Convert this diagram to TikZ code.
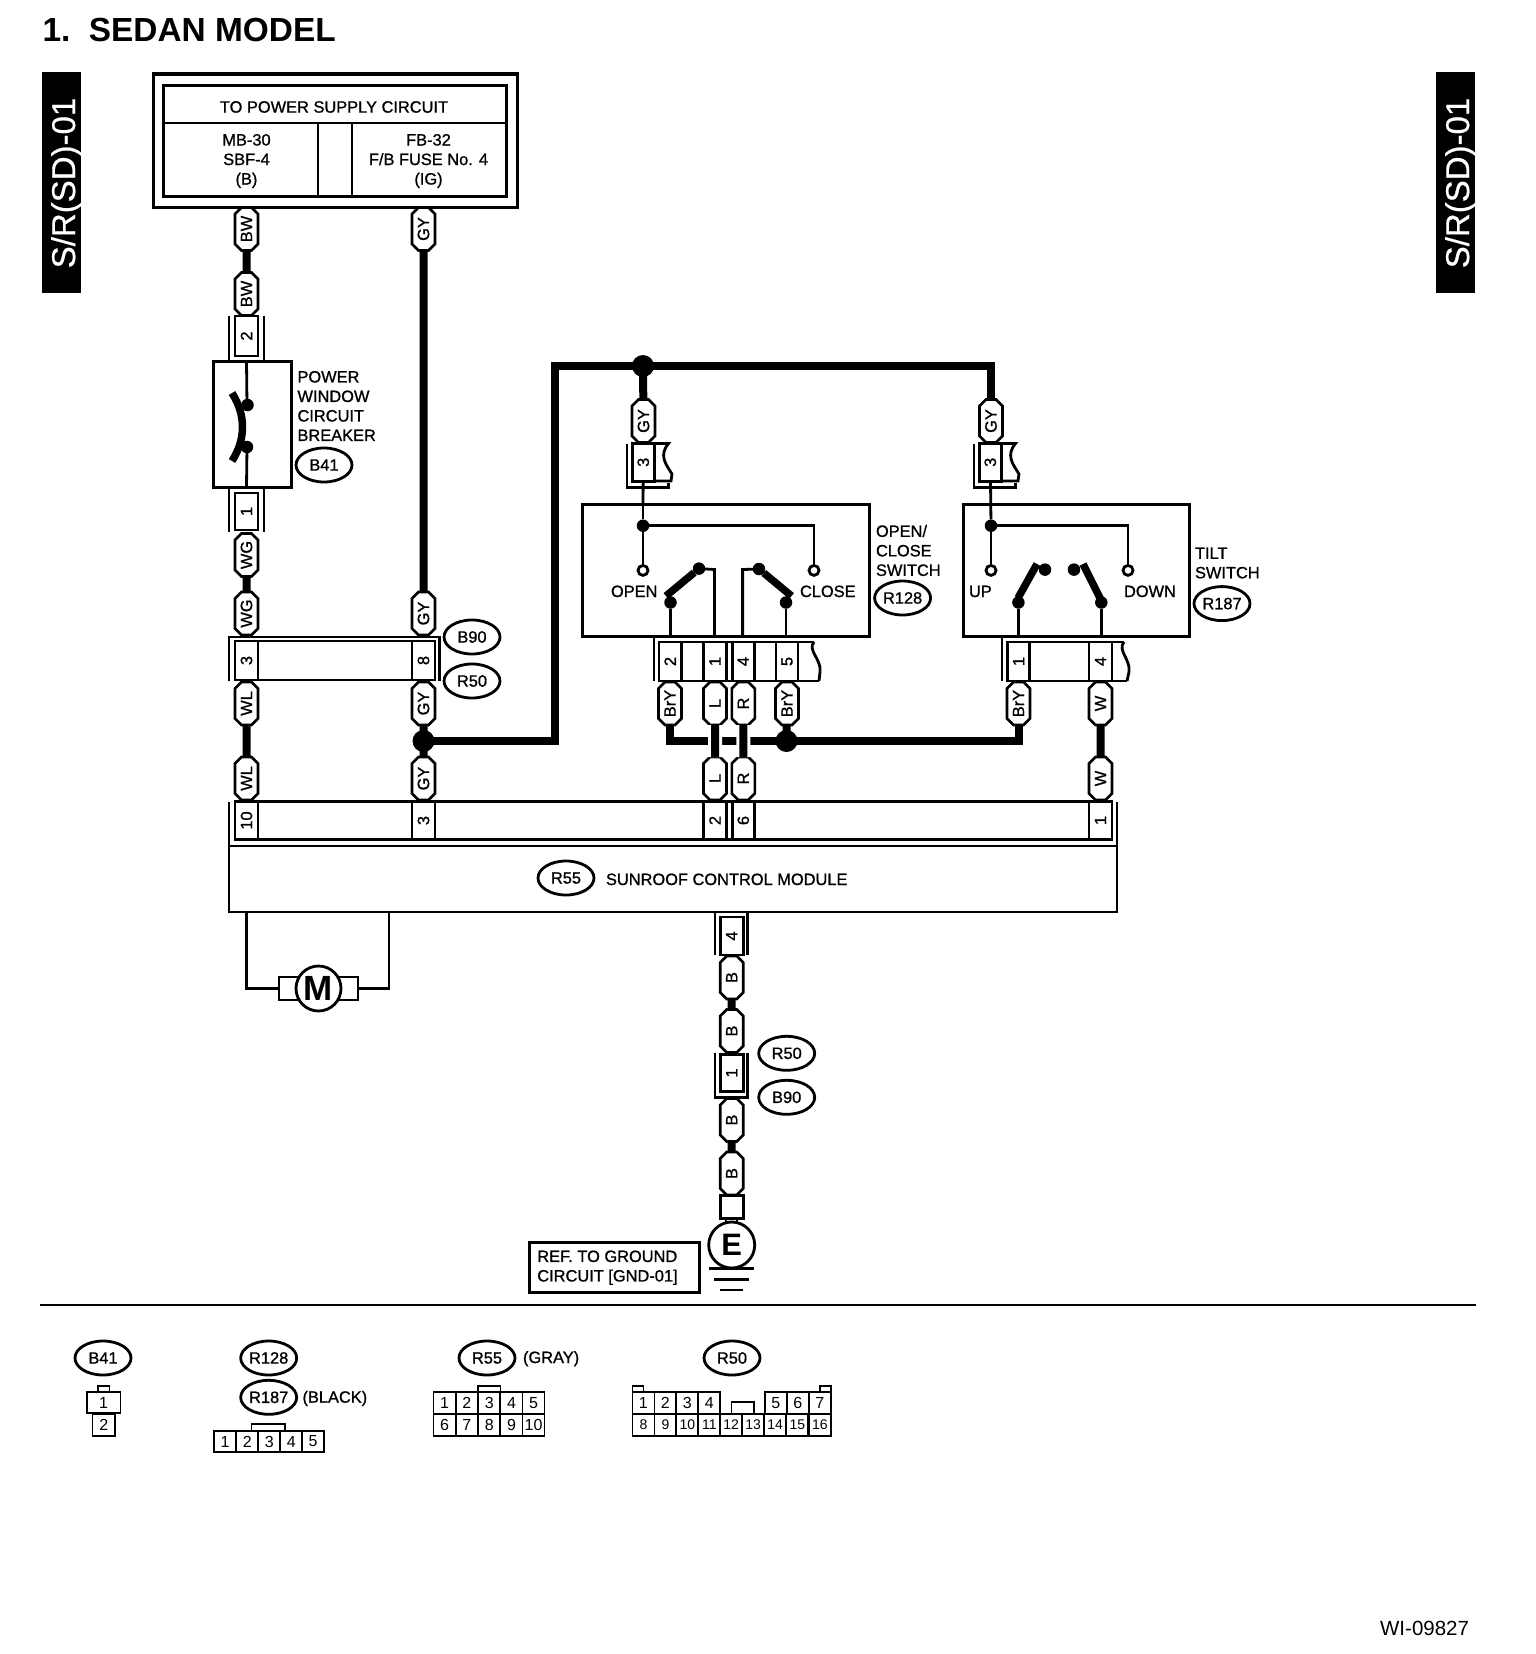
\documentclass[tikz,border=0pt]{standalone}
\usepackage{fontspec}
\usetikzlibrary{shapes.geometric,shapes.misc}
\newfontfamily\hv{Liberation Sans}[FakeBold=1]
\newfontfamily\hr{Liberation Sans}
\newfontfamily\hm{Liberation Sans}[FakeBold=0.6]
\newfontfamily\hb{Liberation Sans Bold}
\newcommand{\lbl}{\hv\fontsize{16.4}{19.5}\selectfont}
\newcommand{\pill}[4]{\node[pill] (#1) at (#2,#3) {\rotatebox{90}{#4}};}
\newcommand{\pin}[6]{\node[cellbox,minimum width=#4,minimum height=#5] (#1) at (#2,#3) {\rotatebox{90}{#6}};}
\newcommand{\ovl}[4]{\node[ovalbox] (#1) at (#2,#3) {#4};}
\tikzset{
  x=1pt,y=-1pt,
  every node/.style={inner sep=0pt,outer sep=0pt,font=\lbl,text=black},
  thinw/.style={draw=black,line width=2.8pt},
  heavyw/.style={draw=black,line width=8pt},
  halo/.style={draw=white,line width=14pt},
  pill/.style={chamfered rectangle,chamfered rectangle xsep=3pt,chamfered rectangle ysep=3.5pt,draw=black,line width=2.6pt,fill=white,minimum width=23pt,minimum height=43pt},
  cellbox/.style={rectangle,draw=black,line width=2.8pt,fill=white},
  ovalbox/.style={ellipse,draw=black,line width=2.8pt,minimum width=56pt,minimum height=34pt},
  splice/.style={circle,fill=black,minimum size=22pt},
  smalldot/.style={circle,fill=black,minimum size=12.5pt},
  opendot/.style={circle,draw=black,fill=white,line width=2.8pt,minimum size=10pt},
  armw/.style={draw=black,line width=7.5pt},
  gridline/.style={draw=black,line width=1.7pt},
  gridcell/.style={rectangle,draw=black,line width=1.7pt,font=\hr\fontsize{16}{18}\selectfont},
  tab/.style={rectangle,fill=black,minimum width=39pt,minimum height=221pt},
  tabtext/.style={rotate=90,text=white,font=\hm\fontsize{33}{36}\selectfont},
}
\begin{document}
\begin{tikzpicture}
\useasboundingbox[fill=white] (0,0) rectangle (1536,1654);
% title and side tabs
\node[anchor=base west,font=\hb\fontsize{33.4}{36}\selectfont] (title) at (42.5,42) {1.\ \ SEDAN MODEL};
\node[tab] (tabl) at (61.5,182.5) {};
\node[tabtext] (tabltext) at (66.5,183) {S/R(SD)-01};
\node[tab] (tabr) at (1455.5,182.5) {};
\node[tabtext] (tabrtext) at (1460.5,183) {S/R(SD)-01};
% power supply box
\node[rectangle,draw=black,line width=3pt,minimum width=364pt,minimum height=133pt] (psout) at (335,140.5) {};
\node[rectangle,draw=black,line width=3pt,minimum width=343pt,minimum height=111pt] (psin) at (334.5,140.5) {};
\draw[thinw] (163,123) -- (506,123);
\draw[thinw] (318,123) -- (318,196);
\draw[thinw] (352,123) -- (352,196);
\node (pstitle) at (334,107) {TO POWER SUPPLY CIRCUIT};
\node[align=center] (psa) at (246.5,161) {MB-30\\SBF-4\\(B)};
\node[align=center] (psb) at (428.5,161) {FB-32\\F/B FUSE No. 4\\(IG)};
% left column
\pill{bw1}{246.5}{229}{BW}
\pill{bw2}{246.5}{294}{BW}
\draw[heavyw] (bw1) -- (bw2);
\pin{c2}{246.5}{336}{23pt}{40pt}{2}
\draw[thinw] (229,316) -- (229,361);
\draw[thinw] (264,316) -- (264,361);
\node[rectangle,draw=black,line width=3pt,minimum width=78pt,minimum height=126pt] (cb) at (252,424) {};
\draw[thinw] (cb.north -| bw1) -- (247,405);
\draw[thinw] (cb.south -| bw1) -- (247,447);
\node[smalldot] (cbt) at (247.5,405) {};
\node[smalldot] (cbb) at (247,447) {};
\draw[armw] (232,393) .. controls (246,415) and (246,439) .. (232,461);
\node[align=left,anchor=west] (cbtext) at (297.5,406) {POWER\\WINDOW\\CIRCUIT\\BREAKER};
\ovl{ob41}{324}{465}{B41}
\pin{c1}{246.5}{511.5}{23pt}{37pt}{1}
\draw[thinw] (229,488) -- (229,532);
\draw[thinw] (264,488) -- (264,532);
\pill{wg1}{246.5}{555}{WG}
\pill{wg2}{246.5}{613.5}{WG}
\draw[heavyw] (wg1) -- (wg2);
% B90/R50 connector
\node[rectangle,draw=black,line width=2.8pt,minimum width=199pt,minimum height=39pt] (conn) at (334.5,660.5) {};
\draw[thinw] (229,681) -- (229,637) -- (439.5,637) -- (439.5,681);
\pin{c3}{246.5}{660.5}{23pt}{39pt}{3}
\pin{c8}{423.5}{660.5}{23pt}{39pt}{8}
\ovl{ob90}{472}{637}{B90}
\ovl{or50}{472}{681}{R50}
\pill{wl1}{246.5}{703.5}{WL}
\pill{wl2}{246.5}{778.5}{WL}
\draw[heavyw] (wl1) -- (wl2);
% GY column
\pill{gy1}{423.5}{229}{GY}
\pill{gy2}{423.5}{613.5}{GY}
\pill{gy3}{423.5}{703.5}{GY}
\pill{gy4}{423.5}{778.5}{GY}
\draw[heavyw] (gy1) -- (gy2);
\pill{gy5}{643.5}{421}{GY}
\pill{gy6}{991}{421}{GY}
\coordinate (ja0) at (423.5,741);
\coordinate (jb0) at (643,366);
\draw[heavyw] (gy3) -- (ja0);
\draw[heavyw] (ja0) -- (gy4);
\draw[heavyw] (ja0) -- (554.5,741) |- (jb0);
\draw[heavyw] (jb0) -| (gy6);
\draw[heavyw] (jb0) -- (gy5);
\node[splice] (ja) at (ja0) {};
\node[splice] (jb) at (jb0) {};
% open/close switch
\node[rectangle,draw=black,line width=3pt,minimum width=287pt,minimum height=132pt] (swa) at (726,570) {};
\node[smalldot] (swan) at (643,525.7) {};
\node[opendot] (swao) at (643,570.4) {};
\node[opendot] (swac) at (814,570.4) {};
\draw[thinw] (swan) -- (swan |- swa.north);
\draw[thinw] (swan) -- (swao);
\draw[thinw] (swan) -| (swac);
\node[smalldot] (swap) at (670.5,602.5) {};
\node[smalldot] (swaq) at (699,568.6) {};
\node[smalldot] (swar) at (759,569) {};
\node[smalldot] (swas) at (786,602.5) {};
\draw[armw] (666,596) -- (swaq);
\draw[armw] (791.5,596) -- (swar);
\draw[thinw] (swap) -- (swap |- swa.south);
\draw[thinw] (swas) -- (swas |- swa.south);
\draw[thinw] (swaq.center) -- (714.5,569.5) -- (714.5,636);
\draw[thinw] (swar.center) -- (742.6,569.5) -- (742.6,636);
\node[anchor=base west] (topen) at (611,597) {OPEN};
\node[anchor=base west] (tclose) at (800,597) {CLOSE};
\node[align=left,anchor=west] (tswa) at (876,550.5) {OPEN/\\CLOSE\\SWITCH};
\ovl{or128}{902.6}{598}{R128}
% connector pin 3, open/close switch
\pin{c3a}{643.3}{462.3}{22pt}{38pt}{3}
\draw[thinw] (654,443.5) -- (668.5,443.5) .. controls (659,455) and (665,463) .. (672,474) -- (671,481) -- (654,481);
\draw[thinw] (627,443.5) -- (627,487.5) -- (668.5,487.5) -- (668.5,483);
\draw[thinw] (gy5) -- (c3a);
\draw[thinw] (c3a) -- (swan |- swa.north);
% tilt switch
\node[rectangle,draw=black,line width=3pt,minimum width=225.5pt,minimum height=132pt] (swb) at (1076.7,570) {};
\node[smalldot] (swbn) at (991,525.7) {};
\node[opendot] (swbu) at (991,570.4) {};
\node[opendot] (swbd) at (1128,570.4) {};
\draw[thinw] (swbn) -- (swbu);
\draw[thinw] (swbn) -| (swbd);
\node[smalldot] (swbp) at (1018.4,602.5) {};
\node[smalldot] (swbq) at (1045,569.6) {};
\node[smalldot] (swbr) at (1074,569.6) {};
\node[smalldot] (swbs) at (1101.3,602.5) {};
\draw[armw] (1018,598) -- (1037,564);
\draw[armw] (1083,564) -- (1101,600);
\draw[thinw] (swbp) -- (swbp |- swb.south);
\draw[thinw] (swbs) -- (swbs |- swb.south);
\node[anchor=base west] (tup) at (969,597) {UP};
\node[anchor=base west] (tdown) at (1124,597) {DOWN};
\node[align=left,anchor=west] (tswb) at (1195,563) {TILT\\SWITCH};
\ovl{or187}{1222}{603.6}{R187}
\pin{c3b}{990.3}{462.3}{22pt}{38pt}{3}
\draw[thinw] (1001,443.5) -- (1015.5,443.5) .. controls (1006,455) and (1012,463) .. (1019,474) -- (1018,481) -- (1001,481);
\draw[thinw] (974,443.5) -- (974,487.5) -- (1015.5,487.5) -- (1015.5,483);
\draw[thinw] (gy6) -- (c3b);
\draw[thinw] (c3b) -- (swbn);
% switch connectors
\draw[thinw] (654,636) -- (654,681);
\draw[thinw] (814,642) -- (659,642) -- (659,681) -- (819,681);
\draw[thinw] (814,642) .. controls (807,650) and (822,660) .. (820,672) -- (819,681);
\pin{ca2}{670.2}{661.5}{22.5pt}{39pt}{2}
\pin{ca1}{715}{661.5}{23pt}{39pt}{1}
\pin{ca4}{743.2}{661.5}{22pt}{39pt}{4}
\pin{ca5}{787}{661.5}{22pt}{39pt}{5}
\draw[thinw] (1002,636) -- (1002,681);
\draw[thinw] (1124,642) -- (1008,642) -- (1008,681) -- (1127,681);
\draw[thinw] (1124,642) .. controls (1117,650) and (1131,660) .. (1129,672) -- (1127,681);
\pin{cb1}{1018.7}{661.5}{22pt}{39pt}{1}
\pin{cb4}{1100.5}{661.5}{23pt}{39pt}{4}
% wires under the switches
\pill{bry1}{670}{703.5}{BrY}
\pill{l1}{715}{703.5}{L}
\pill{r1}{743.3}{703.5}{R}
\pill{bry2}{787}{703.5}{BrY}
\pill{bry3}{1018.5}{703.5}{BrY}
\pill{w1}{1100.5}{703.5}{W}
\pill{l2}{715}{778.5}{L}
\pill{r2}{743.3}{778.5}{R}
\pill{w2}{1100.5}{778.5}{W}
\coordinate (jc0) at (786.5,741);
\draw[heavyw] (bry1) |- (jc0);
\draw[heavyw] (jc0) -| (bry3);
\draw[heavyw] (bry2) -- (jc0);
\node[splice] (jc) at (jc0) {};
\draw[halo] (l1) -- (l2);
\draw[halo] (r1) -- (r2);
\draw[heavyw] (l1) -- (l2);
\draw[heavyw] (r1) -- (r2);
\draw[heavyw] (w1) -- (w2);
% control module
\node[rectangle,draw=black,line width=2.8pt,minimum width=877pt,minimum height=37.5pt] (modconn) at (673.5,820.5) {};
\draw[thinw] (229,801.7) -- (229,846);
\draw[thinw] (1117,801.7) -- (1117,846);
\pin{m10}{246.5}{820.5}{23pt}{37.5pt}{10}
\pin{m3}{423.5}{820.5}{23pt}{37.5pt}{3}
\pin{m2}{715}{820.5}{23pt}{37.5pt}{2}
\pin{m6}{743.3}{820.5}{22pt}{37.5pt}{6}
\pin{m1}{1100.5}{820.5}{23pt}{37.5pt}{1}
\node[rectangle,draw=black,line width=2.8pt,minimum width=888pt,minimum height=66pt] (mod) at (673,879) {};
\ovl{or55}{566}{878}{R55}
\node[anchor=base west] (tmod) at (606,885) {SUNROOF CONTROL MODULE};
% motor
\node[rectangle,draw=black,line width=2.8pt,minimum width=79pt,minimum height=23pt] (mb) at (318.5,988.5) {};
\node[circle,draw=black,fill=white,line width=2.8pt,minimum size=45pt,font=\hb\fontsize{35}{38}\selectfont] (mot) at (318.5,988.5) {M};
\draw[thinw] (246.7,912) |- (mb.west);
\draw[thinw] (389,912) |- (mb.east);
% ground branch
\pin{c4}{731.7}{936}{23pt}{38pt}{4}
\draw[thinw] (715,912) -- (715,955);
\draw[thinw] (747.7,912) -- (747.7,955);
\pill{b1}{731.7}{977.5}{B}
\pill{b2}{731.7}{1031}{B}
\draw[heavyw] (b1) -- (b2);
\pin{c1b}{731.7}{1073}{23pt}{37.5pt}{1}
\draw[thinw] (715,1053) -- (715,1097.3) -- (747.7,1097.3) -- (747.7,1053);
\ovl{or50b}{786.7}{1053.3}{R50}
\ovl{ob90b}{786.7}{1097.3}{B90}
\pill{b3}{731.7}{1120}{B}
\pill{b4}{731.7}{1173.5}{B}
\draw[heavyw] (b3) -- (b4);
\node[rectangle,draw=black,line width=2.8pt,minimum width=23pt,minimum height=23pt] (gsq) at (731.7,1207) {};
\node[circle,draw=black,fill=white,line width=2.8pt,minimum size=46pt,font=\hb\fontsize{31}{34}\selectfont] (gnd) at (731.7,1245) {E};
\draw[thinw] (726,1219) -- (726,1224);
\draw[thinw] (737,1219) -- (737,1224);
\draw[thinw] (709,1268.3) -- (754,1268.3);
\draw[thinw] (714,1279.3) -- (749,1279.3);
\draw[thinw] (720,1290) -- (743,1290);
\node[rectangle,draw=black,line width=3pt,minimum width=170pt,minimum height=50pt] (ref) at (614,1267.7) {};
\node[align=left,anchor=west] (reft) at (537.3,1267.7) {REF. TO GROUND\\CIRCUIT [GND-01]};
% separator
\coordinate (sepl) at (40,1305);
\coordinate (sepr) at (1476,1305);
\draw[line width=2.8pt] (sepl) -- (sepr);
% connector views
\ovl{vb41}{103}{1358}{B41}
\node[gridcell,minimum width=33.7pt,minimum height=21.6pt] (vb1) at (103.5,1402.5) {1};
\node[gridcell,minimum width=22.5pt,minimum height=22pt] (vb2) at (103.8,1425) {2};
\draw[gridline] (98,1391.7) -- (98,1385.7) -- (109.6,1385.7) -- (109.6,1391.7);
\ovl{v128}{268.7}{1358}{R128}
\ovl{v187}{268.7}{1397.3}{R187}
\node[anchor=base west] (tblack) at (302.5,1402.7) {(BLACK)};
\foreach \i/\x in {1/225,2/247.2,3/269.4,4/291.3,5/313}
  \node[gridcell,minimum width=21.8pt,minimum height=21.6pt] (va\i) at (\x,1441.5) {\i};
\draw[gridline] (251.6,1430.7) -- (251.6,1424.3) -- (285.3,1424.3) -- (285.3,1430.7);
\ovl{v55}{487}{1358}{R55}
\node[anchor=base west] (tgray) at (523,1363) {(GRAY)};
\foreach \i/\x in {1/444.6,2/466.8,3/489.3,4/511.6,5/533.5}
  \node[gridcell,minimum width=22pt,minimum height=22.2pt] (vc\i) at (\x,1402.8) {\i};
\foreach \i/\x in {6/444.6,7/466.8,8/489.3,9/511.6,10/533.5}
  \node[gridcell,minimum width=22pt,minimum height=22pt] (vc\i) at (\x,1425) {\i};
\draw[gridline] (478,1391.7) -- (478,1385.7) -- (500.6,1385.7) -- (500.6,1391.7);
\ovl{v50}{732}{1358}{R50}
\foreach \i/\x in {1/643.4,2/665.4,3/687.3,4/709.3,5/775.7,6/797.7,7/819.8}
  \node[gridcell,minimum width=22pt,minimum height=22.2pt] (vd\i) at (\x,1402.8) {\i};
\foreach \i/\x in {8/643.4,9/665.4,10/687.3,11/709.3,12/731.2,13/753.2,14/775.2,15/797.3,16/819.8}
  \node[gridcell,minimum width=22pt,minimum height=22pt,font=\hr\fontsize{14}{16}\selectfont] (vd\i) at (\x,1425) {\i};
\draw[gridline] (731.5,1414) -- (731.5,1402) -- (754,1402) -- (754,1414);
\draw[gridline] (632.4,1391.7) -- (632.4,1385.7) -- (643.6,1385.7) -- (643.6,1391.7);
\draw[gridline] (820,1391.7) -- (820,1385.7) -- (831,1385.7) -- (831,1391.7);
% drawing number
\node[anchor=base east,font=\hr\fontsize{20.5}{22}\selectfont] (wi) at (1469,1635) {WI-09827};
\end{tikzpicture}
\end{document}
